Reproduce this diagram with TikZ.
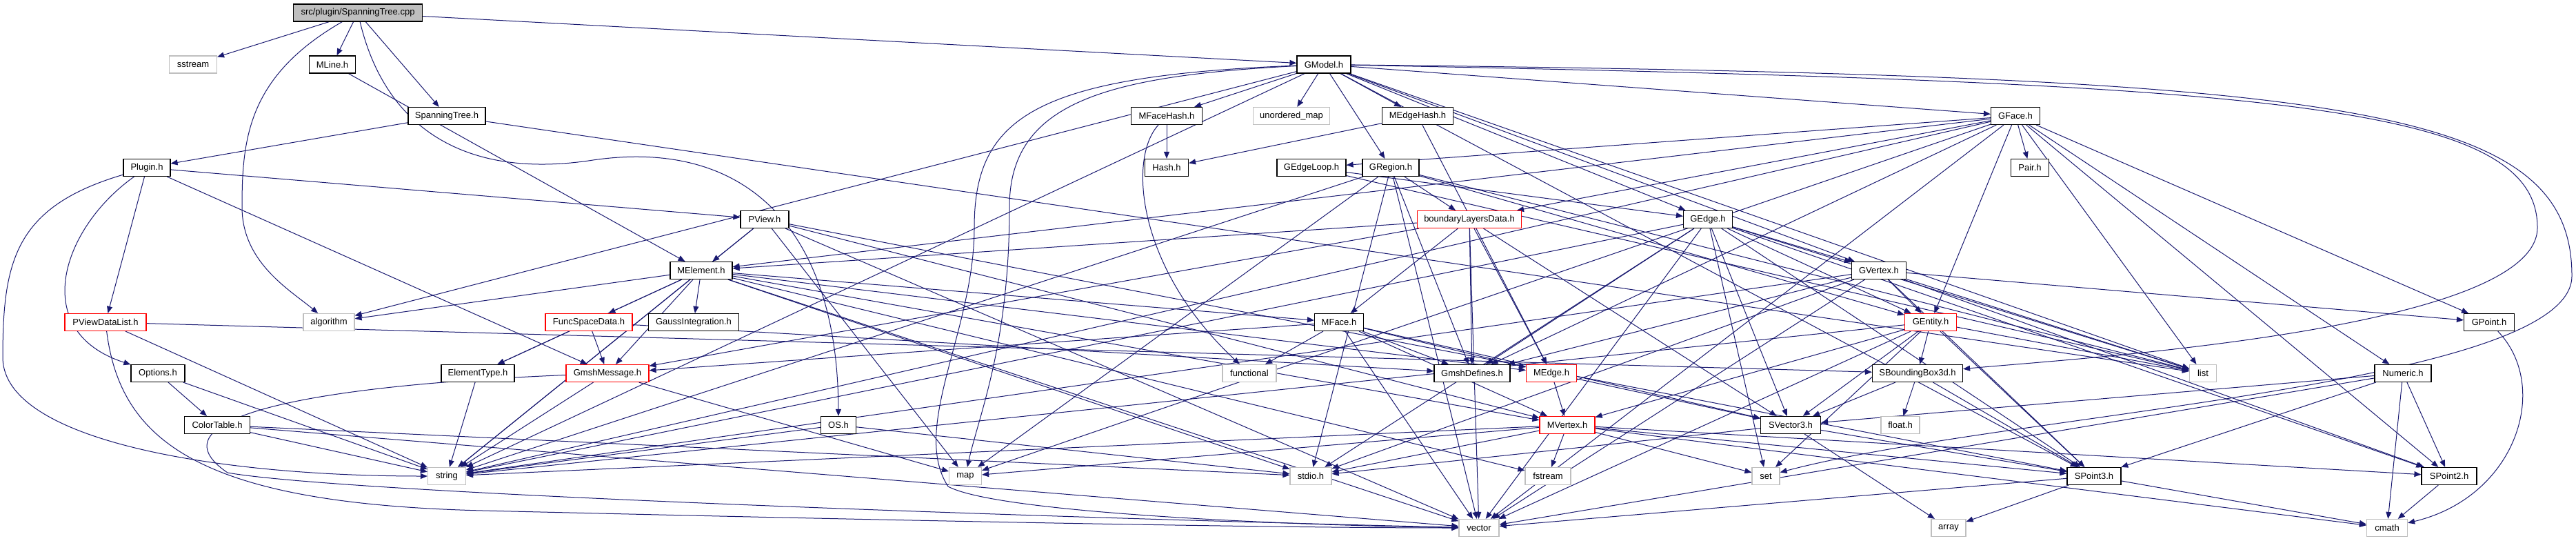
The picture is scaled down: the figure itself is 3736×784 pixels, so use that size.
\documentclass[tikz,border=0pt]{standalone}
\usepackage{fontspec}
\setmainfont{Liberation Sans}
\usetikzlibrary{arrows.meta}
\definecolor{edgec}{HTML}{191970}
\definecolor{grayc}{HTML}{BFBFBF}
\pgfdeclarelayer{bg}
\pgfsetlayers{bg,main}
\begin{document}
\begin{tikzpicture}[x=1pt,y=-1pt,
  box/.style={draw=black, line width=1.2pt, fill=white, minimum height=25pt, inner sep=0pt, font=\fontsize{13}{15}\selectfont},
  sys/.style={box, draw=grayc},
  trunc/.style={box, draw=red},
  e/.style={draw=edgec, line width=1pt, -{Triangle[length=10pt,width=8pt]}}]
\useasboundingbox (0,0) rectangle (3736,784);
% row 0
\node[box, fill=grayc, minimum width=187pt] (root) at (519,18.5) {src/plugin/SpanningTree.cpp};
% row 1
\node[sys, minimum width=69pt] (sstream) at (280,93.5) {sstream};
\node[box, minimum width=67pt] (mline) at (482,93.5) {MLine.h};
\node[box, minimum width=78pt] (gmodel) at (1920,93.5) {GModel.h};
% row 2
\node[box, minimum width=112pt] (sth) at (648,168) {SpanningTree.h};
\node[box, minimum width=103pt] (mfh) at (1692,168) {MFaceHash.h};
\node[sys, minimum width=111pt] (umap) at (1873,168) {unordered\_map};
\node[box, minimum width=103pt] (meh) at (2056,168) {MEdgeHash.h};
\node[box, minimum width=71pt] (gface) at (2923,168) {GFace.h};
% row 3
\node[box, minimum width=68pt] (plugin) at (213,243) {Plugin.h};
\node[box, minimum width=63pt] (hash) at (1692,243) {Hash.h};
\node[box, minimum width=100pt] (gel) at (1902,243) {GEdgeLoop.h};
\node[box, minimum width=82pt] (gregion) at (2017,243) {GRegion.h};
\node[box, minimum width=55pt] (pair) at (2944,243) {Pair.h};
% row 4
\node[box, minimum width=70pt] (pview) at (1109,318) {PView.h};
\node[trunc, minimum width=151pt] (bld) at (2131,318) {boundaryLayersData.h};
\node[box, minimum width=71pt] (gedge) at (2477,318) {GEdge.h};
% row 5
\node[box, minimum width=90pt] (melem) at (1017,392) {MElement.h};
\node[box, minimum width=79pt] (gvert) at (2725,392) {GVertex.h};
% row 6
\node[trunc, minimum width=118pt] (pvdl) at (153,467) {PViewDataList.h};
\node[sys, minimum width=74pt] (algo) at (477,467) {algorithm};
\node[trunc, minimum width=126pt] (fsd) at (854,467) {FuncSpaceData.h};
\node[box, minimum width=131pt] (gauss) at (1006,467) {GaussIntegration.h};
\node[box, minimum width=71pt] (mface) at (1942,467) {MFace.h};
\node[trunc, minimum width=75pt] (gent) at (2800,467) {GEntity.h};
\node[box, minimum width=73pt] (gpoint) at (3610,467) {GPoint.h};
% row 7
\node[box, minimum width=78pt] (options) at (229,541) {Options.h};
\node[box, minimum width=106pt] (etype) at (693,541) {ElementType.h};
\node[trunc, minimum width=120pt] (gmsg) at (881,541) {GmshMessage.h};
\node[sys, minimum width=78pt] (functional) at (1812,541) {functional};
\node[box, minimum width=110pt] (gdef) at (2135,541) {GmshDefines.h};
\node[trunc, minimum width=73pt] (medge) at (2250,541) {MEdge.h};
\node[box, minimum width=131pt] (sbb) at (2781,541) {SBoundingBox3d.h};
\node[sys, minimum width=39pt] (list) at (3195,541) {list};
\node[box, minimum width=82pt] (numeric) at (3485,541) {Numeric.h};
% row 8
\node[box, minimum width=95pt] (ctable) at (315,616) {ColorTable.h};
\node[box, minimum width=51pt] (os) at (1216,616) {OS.h};
\node[trunc, minimum width=80pt] (mvert) at (2273,616) {MVertex.h};
\node[box, minimum width=87pt] (svec) at (2597,616) {SVector3.h};
\node[sys, minimum width=56pt] (floath) at (2756,616) {float.h};
% row 9
\node[sys, minimum width=55pt] (string) at (648,690) {string};
\node[sys, minimum width=47pt] (map) at (1400,690) {map};
\node[sys, minimum width=60pt] (stdio) at (1901,690) {stdio.h};
\node[sys, minimum width=66pt] (fstream) at (2245,690) {fstream};
\node[sys, minimum width=40pt] (set) at (2561,690) {set};
\node[box, minimum width=78pt] (sp3) at (3037,690) {SPoint3.h};
\node[box, minimum width=80pt] (sp2) at (3552,690) {SPoint2.h};
% row 10
\node[sys, minimum width=58pt] (vector) at (2145,765) {vector};
\node[sys, minimum width=50pt] (array) at (2826,765) {array};
\node[sys, minimum width=59pt] (cmath) at (3462,765) {cmath};

\begin{pgfonlayer}{bg}
\foreach \a/\b in {
 root/sstream, root/mline, root/sth, root/gmodel,
 mline/melem, sth/plugin, sth/list,
 plugin/pview, plugin/pvdl, plugin/gmsg,
 gmodel/umap, gmodel/mfh, gmodel/meh, gmodel/gface, gmodel/gregion, gmodel/gedge, gmodel/gvert,
 gmodel/algo, gmodel/string, gmodel/list, gmodel/sp3,
 gface/pair, gface/gel, gface/bld, gface/gent, gface/gpoint, gface/sp2, gface/numeric,
 gface/list, gface/string, gface/vector, gface/gdef, gface/melem, gface/map,
 gregion/bld, gregion/gent, gregion/list, gregion/string, gregion/vector, gregion/stdio, gregion/map, gregion/gdef,
 gel/gedge, gel/list,
 gedge/gent, gedge/gvert, gedge/svec, gedge/sp3, gedge/sp2, gedge/list, gedge/string, gedge/vector,
 gedge/set, gedge/stdio, gedge/gdef,
 gvert/gent, gvert/gpoint, gvert/sp2, gvert/sp3, gvert/list, gvert/string, gvert/vector, gvert/stdio, gvert/gdef,
 gent/sbb, gent/set, gent/vector, gent/list, gent/string, gent/sp3, gent/mvert, gent/svec,
 bld/melem, bld/gmsg, bld/mface, bld/medge, bld/gdef, bld/svec, bld/vector,
 melem/algo, melem/fsd, melem/gauss, melem/etype, melem/gmsg, melem/string, melem/mface, melem/medge,
 melem/mvert, melem/stdio, melem/vector, melem/fstream,
 fsd/etype, fsd/gmsg, fsd/gdef, etype/string, gmsg/string, gmsg/map,
 options/ctable, options/string, ctable/string, ctable/stdio, ctable/vector, os/string, os/stdio,
 pvdl/string, pvdl/sbb,
 pview/melem, pview/string, pview/vector, pview/map, pview/mvert, pview/sp3,
 mfh/hash, meh/hash, meh/medge,
 mface/functional, mface/gmsg, mface/mvert, mface/medge, mface/svec, mface/vector, mface/gdef,
 medge/mvert, medge/svec,
 mvert/fstream, mvert/map, mvert/stdio, mvert/string, mvert/set, mvert/sp3, mvert/sp2, mvert/cmath,
 svec/sp3, svec/array, svec/stdio, sp3/array, sp3/cmath, sp3/vector, sp2/cmath,
 numeric/svec, numeric/sp3, numeric/sp2, numeric/vector, numeric/cmath,
 sbb/floath, sbb/sp3, sbb/svec}
 \draw[e] (\a) -- (\b);
% curved connectors
\draw[e] (root) .. controls (360,110) and (351,200) .. (351,300) .. controls (351,380) and (420,420) .. (algo);
\draw[e] (root) .. controls (560,190) and (680,260) .. (860,232) .. controls (1080,200) and (1215,330) .. (os);
\draw[e] (plugin) .. controls (20,300) and (4,380) .. (4,520) .. controls (8,640) and (320,690) .. (string);
\draw[e] (plugin) .. controls (90,330) and (40,480) .. (options);
\draw[e] (pvdl) .. controls (175,640) and (290,730) .. (700,740) .. controls (1200,752) and (1800,765) .. (vector);
\draw[e] (gmsg) .. controls (420,560) and (220,610) .. (330,685) .. controls (500,715) and (1500,750) .. (vector);
\draw[e] (gmodel) .. controls (1600,110) and (1464,150) .. (1464,300) .. controls (1464,500) and (1420,600) .. (map);
\draw[e] (gmodel) .. controls (1500,110) and (1413,170) .. (1413,330) .. controls (1413,480) and (1320,620) .. (1375,705) .. controls (1450,745) and (1900,762) .. (vector);
\draw[e] (mfh) .. controls (1635,230) and (1650,390) .. (functional);
\draw[e] (gpoint) .. controls (3700,560) and (3650,720) .. (cmath);
\draw[e] (gmodel) .. controls (3400,110) and (3730,150) .. (3730,400) .. controls (3730,560) and (2900,600) .. (set);
\draw[e] (gmodel) .. controls (3300,120) and (3680,150) .. (3680,330) .. controls (3680,480) and (3000,520) .. (sbb);
\end{pgfonlayer}
\end{tikzpicture}
\end{document}
